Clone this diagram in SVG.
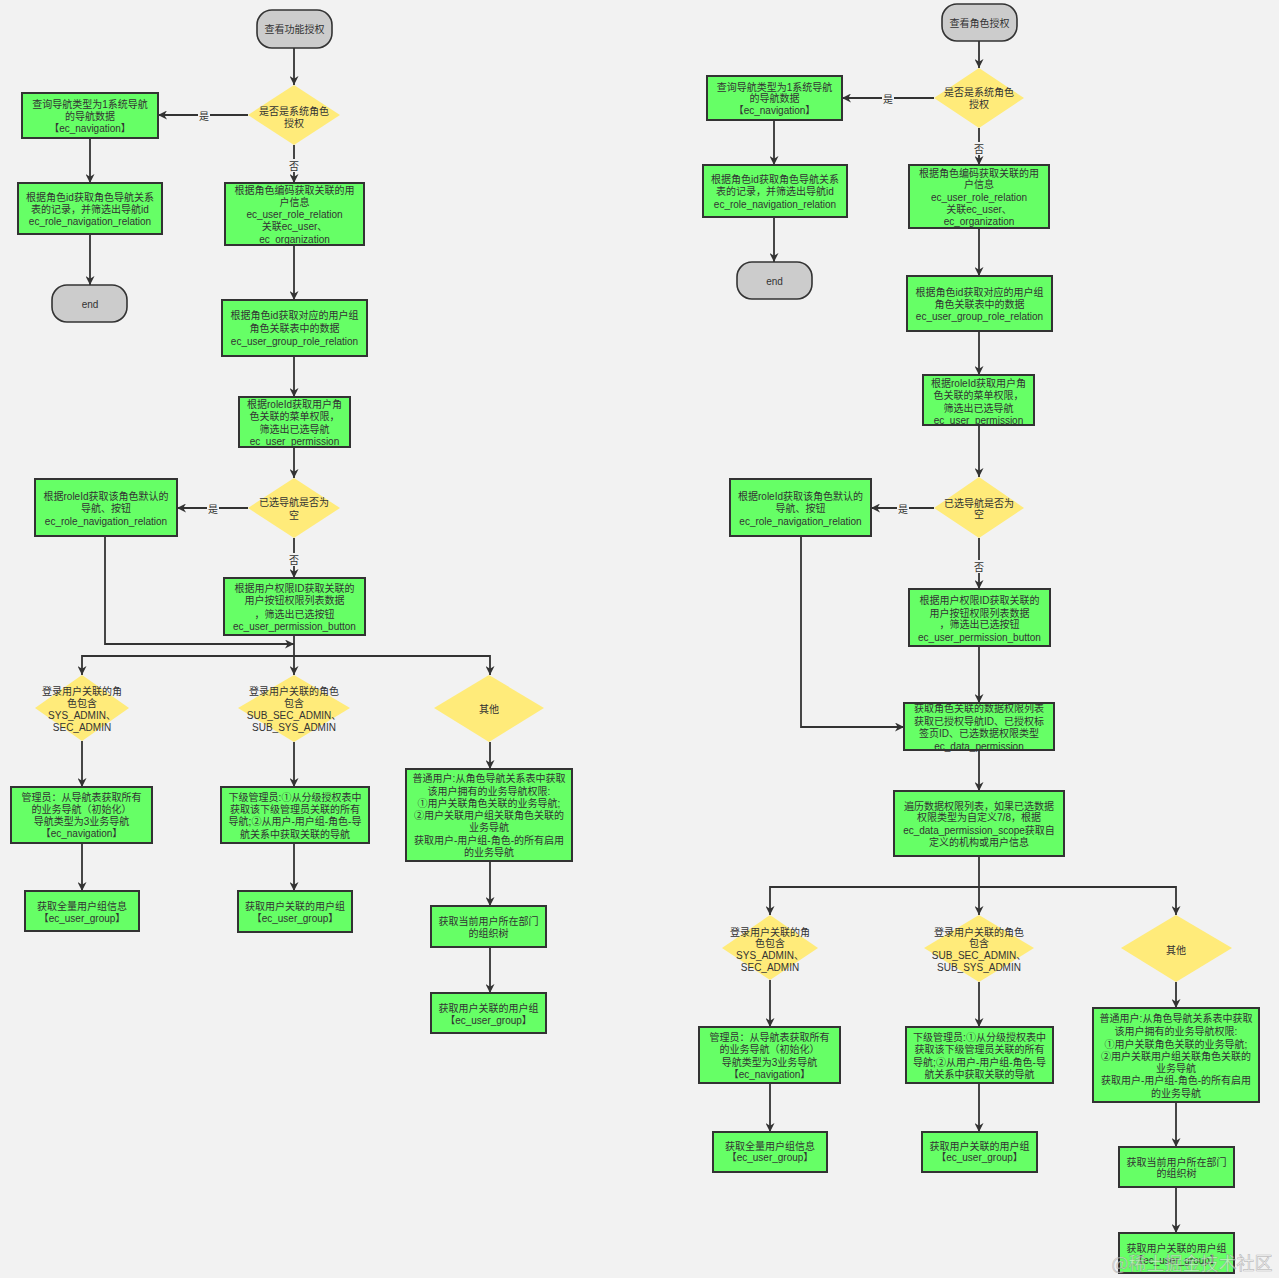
<svg xmlns="http://www.w3.org/2000/svg" width="1279" height="1278" viewBox="0 0 1279 1278">
<defs>
<marker id="arr" viewBox="0 0 10 10" refX="10" refY="5" markerWidth="9" markerHeight="9" markerUnits="userSpaceOnUse" orient="auto">
<path d="M0,0 L10,5 L0,10 L3,5 z" fill="#333"/>
</marker>
<style>
.bg{fill:#f2f2f2}
.box{fill:#66ff66;stroke:#333;stroke-width:2}
.dia{fill:#ffeb7a;stroke:none}
.term{fill:#cccccc;stroke:#333;stroke-width:1.6}
.t{font-family:"Liberation Sans","Noto Sans CJK SC",sans-serif;font-size:10px;fill:#333;text-anchor:middle;dominant-baseline:central}
.c{fill:none;stroke:#333;stroke-width:1.8}
.ca{fill:none;stroke:#333;stroke-width:1.8;marker-end:url(#arr)}
.lb{fill:#f2f2f2}
.wm{font-family:"Noto Sans CJK SC",sans-serif;font-size:18px;fill:#ffffff;fill-opacity:0.55;stroke:#777;stroke-opacity:0.45;stroke-width:0.7}
</style>
</defs>
<rect class="bg" x="0" y="0" width="1279" height="1278"/>

<g id="connectors">
<!-- left chart -->
<line class="ca" x1="294" y1="48" x2="294" y2="85"/>
<line class="ca" x1="248" y1="115" x2="158" y2="115"/>
<line class="ca" x1="90" y1="138" x2="90" y2="183"/>
<line class="ca" x1="90" y1="234" x2="90" y2="285"/>
<line class="ca" x1="294" y1="145" x2="294" y2="183"/>
<line class="ca" x1="294" y1="245" x2="294" y2="300"/>
<line class="ca" x1="294" y1="356" x2="294" y2="397"/>
<line class="ca" x1="294" y1="447" x2="294" y2="478"/>
<line class="ca" x1="248" y1="508" x2="177" y2="508"/>
<line class="ca" x1="294" y1="538" x2="294" y2="578"/>
<polyline class="ca" points="105,536 105,644 294,644"/>
<line class="ca" x1="294" y1="635" x2="294" y2="675"/>
<polyline class="ca" points="294,656 82,656 82,675"/>
<polyline class="ca" points="294,656 490,656 490,675"/>
<line class="ca" x1="82" y1="741" x2="82" y2="787"/>
<line class="ca" x1="82" y1="843" x2="82" y2="891"/>
<line class="ca" x1="294" y1="742" x2="294" y2="787"/>
<line class="ca" x1="294" y1="843" x2="294" y2="891"/>
<line class="ca" x1="490" y1="742" x2="490" y2="769"/>
<line class="ca" x1="490" y1="861" x2="490" y2="906"/>
<line class="ca" x1="490" y1="947" x2="490" y2="993"/>
<!-- right chart -->
<line class="ca" x1="979" y1="41" x2="979" y2="68"/>
<line class="ca" x1="934" y1="98" x2="842" y2="98"/>
<line class="ca" x1="774" y1="120" x2="774" y2="165"/>
<line class="ca" x1="774" y1="217" x2="774" y2="262"/>
<line class="ca" x1="979" y1="128" x2="979" y2="165"/>
<line class="ca" x1="979" y1="228" x2="979" y2="276"/>
<line class="ca" x1="979" y1="331" x2="979" y2="375"/>
<line class="ca" x1="979" y1="425" x2="979" y2="477"/>
<line class="ca" x1="934" y1="508" x2="871" y2="508"/>
<line class="ca" x1="979" y1="538" x2="979" y2="589"/>
<polyline class="ca" points="801,536 801,727 904,727"/>
<line class="ca" x1="979" y1="646" x2="979" y2="703"/>
<line class="ca" x1="979" y1="750" x2="979" y2="791"/>
<line class="ca" x1="979" y1="856" x2="979" y2="915"/>
<polyline class="ca" points="979,887 770,887 770,915"/>
<polyline class="ca" points="979,887 1176,887 1176,915"/>
<line class="ca" x1="770" y1="980" x2="770" y2="1027"/>
<line class="ca" x1="770" y1="1083" x2="770" y2="1132"/>
<line class="ca" x1="979" y1="982" x2="979" y2="1027"/>
<line class="ca" x1="979" y1="1083" x2="979" y2="1132"/>
<line class="ca" x1="1176" y1="982" x2="1176" y2="1008"/>
<line class="ca" x1="1176" y1="1102" x2="1176" y2="1147"/>
<line class="ca" x1="1176" y1="1187" x2="1176" y2="1233"/>
<!-- labels -->
<rect class="lb" x="198" y="109" width="12" height="13"/><text class="t" x="204" y="116">是</text>
<rect class="lb" x="288" y="159" width="12" height="13"/><text class="t" x="294" y="166">否</text>
<rect class="lb" x="207" y="502" width="12" height="13"/><text class="t" x="213" y="509">是</text>
<rect class="lb" x="288" y="553" width="12" height="13"/><text class="t" x="294" y="560">否</text>
<rect class="lb" x="882" y="92" width="12" height="13"/><text class="t" x="888" y="99">是</text>
<rect class="lb" x="973" y="142" width="12" height="13"/><text class="t" x="979" y="149">否</text>
<rect class="lb" x="897" y="502" width="12" height="13"/><text class="t" x="903" y="509">是</text>
<rect class="lb" x="973" y="560" width="12" height="13"/><text class="t" x="979" y="567">否</text>
</g>

<!-- ===== Left chart ===== -->
<g id="L_start"><rect class="term" x="257" y="10" width="75" height="38" rx="15"/><text class="t" x="294.5" y="29">查看功能授权</text></g>
<g id="L_dia1"><polygon class="dia" points="294,85 340,115 294,145 248,115"/><text class="t" x="294"><tspan x="294" y="111">是否是系统角色</tspan><tspan x="294" y="123">授权</tspan></text></g>
<g id="L_A1"><rect class="box" x="22" y="93" width="136" height="45"/><text class="t"><tspan x="90" y="104">查询导航类型为1系统导航</tspan><tspan x="90" y="116">的导航数据</tspan><tspan x="90" y="128">【ec_navigation】</tspan></text></g>
<g id="L_A2"><rect class="box" x="18" y="183" width="144" height="51"/><text class="t"><tspan x="90" y="197">根据角色id获取角色导航关系</tspan><tspan x="90" y="209">表的记录，并筛选出导航id</tspan><tspan x="90" y="221">ec_role_navigation_relation</tspan></text></g>
<g id="L_end"><rect class="term" x="52" y="285" width="75" height="37" rx="15"/><text class="t" x="90" y="304">end</text></g>
<g id="L_B1"><rect class="box" x="225" y="183" width="139" height="62"/><text class="t"><tspan x="294.5" y="190">根据角色编码获取关联的用</tspan><tspan x="294.5" y="202">户信息</tspan><tspan x="294.5" y="214">ec_user_role_relation</tspan><tspan x="294.5" y="226">关联ec_user、</tspan><tspan x="294.5" y="239">ec_organization</tspan></text></g>
<g id="L_B2"><rect class="box" x="222" y="300" width="145" height="56"/><text class="t"><tspan x="294.5" y="315">根据角色id获取对应的用户组</tspan><tspan x="294.5" y="328">角色关联表中的数据</tspan><tspan x="294.5" y="341">ec_user_group_role_relation</tspan></text></g>
<g id="L_B3"><rect class="box" x="239" y="397" width="111" height="50"/><text class="t"><tspan x="294.5" y="404">根据roleId获取用户角</tspan><tspan x="294.5" y="416">色关联的菜单权限，</tspan><tspan x="294.5" y="429">筛选出已选导航</tspan><tspan x="294.5" y="441">ec_user_permission</tspan></text></g>
<g id="L_dia2"><polygon class="dia" points="294,478 340,508 294,538 248,508"/><text class="t"><tspan x="294" y="502">已选导航是否为</tspan><tspan x="294" y="515">空</tspan></text></g>
<g id="L_C1"><rect class="box" x="35" y="479" width="142" height="57"/><text class="t"><tspan x="106" y="496">根据roleId获取该角色默认的</tspan><tspan x="106" y="508">导航、按钮</tspan><tspan x="106" y="521">ec_role_navigation_relation</tspan></text></g>
<g id="L_C2"><rect class="box" x="224" y="578" width="141" height="57"/><text class="t"><tspan x="294.5" y="588">根据用户权限ID获取关联的</tspan><tspan x="294.5" y="600">用户按钮权限列表数据</tspan><tspan x="294.5" y="614">，筛选出已选按钮</tspan><tspan x="294.5" y="626">ec_user_permission_button</tspan></text></g>
<g id="L_D1"><polygon class="dia" points="82,675 129,708 82,741 35,708"/><text class="t"><tspan x="82" y="691">登录用户关联的角</tspan><tspan x="82" y="703">色包含</tspan><tspan x="82" y="715">SYS_ADMIN、</tspan><tspan x="82" y="727">SEC_ADMIN</tspan></text></g>
<g id="L_D2"><polygon class="dia" points="294,675 350,708 294,742 238,708"/><text class="t"><tspan x="294" y="691">登录用户关联的角色</tspan><tspan x="294" y="703">包含</tspan><tspan x="294" y="715">SUB_SEC_ADMIN、</tspan><tspan x="294" y="727">SUB_SYS_ADMIN</tspan></text></g>
<g id="L_D3"><polygon class="dia" points="489,675 544,708 489,742 434,708"/><text class="t" x="489" y="709">其他</text></g>
<g id="L_E1"><rect class="box" x="11" y="787" width="141" height="56"/><text class="t"><tspan x="81.5" y="797">管理员：从导航表获取所有</tspan><tspan x="81.5" y="809">的业务导航（初始化）</tspan><tspan x="81.5" y="821">导航类型为3业务导航</tspan><tspan x="81.5" y="833">【ec_navigation】</tspan></text></g>
<g id="L_E2"><rect class="box" x="25" y="891" width="114" height="40"/><text class="t"><tspan x="82" y="906">获取全量用户组信息</tspan><tspan x="82" y="918">【ec_user_group】</tspan></text></g>
<g id="L_F1"><rect class="box" x="221" y="787" width="148" height="56"/><text class="t"><tspan x="295" y="797">下级管理员:①从分级授权表中</tspan><tspan x="295" y="809">获取该下级管理员关联的所有</tspan><tspan x="295" y="821">导航;②从用户-用户组-角色-导</tspan><tspan x="295" y="834">航关系中获取关联的导航</tspan></text></g>
<g id="L_F2"><rect class="box" x="238" y="891" width="114" height="41"/><text class="t"><tspan x="295" y="906">获取用户关联的用户组</tspan><tspan x="295" y="918">【ec_user_group】</tspan></text></g>
<g id="L_G1"><rect class="box" x="406" y="769" width="166" height="92"/><text class="t"><tspan x="489" y="778">普通用户:从角色导航关系表中获取</tspan><tspan x="489" y="791">该用户拥有的业务导航权限:</tspan><tspan x="489" y="803">①用户关联角色关联的业务导航;</tspan><tspan x="489" y="815">②用户关联用户组关联角色关联的</tspan><tspan x="489" y="827">业务导航</tspan><tspan x="489" y="840">获取用户-用户组-角色-的所有启用</tspan><tspan x="489" y="852">的业务导航</tspan></text></g>
<g id="L_G2"><rect class="box" x="431" y="906" width="115" height="41"/><text class="t"><tspan x="488.5" y="921">获取当前用户所在部门</tspan><tspan x="488.5" y="933">的组织树</tspan></text></g>
<g id="L_G3"><rect class="box" x="431" y="993" width="115" height="40"/><text class="t"><tspan x="488.5" y="1008">获取用户关联的用户组</tspan><tspan x="488.5" y="1020">【ec_user_group】</tspan></text></g>

<!-- ===== Right chart ===== -->
<g id="R_start"><rect class="term" x="942" y="4" width="75" height="37" rx="15"/><text class="t" x="979.5" y="23">查看角色授权</text></g>
<g id="R_dia1"><polygon class="dia" points="979,68 1024,98 979,128 934,98"/><text class="t"><tspan x="979" y="92">是否是系统角色</tspan><tspan x="979" y="104">授权</tspan></text></g>
<g id="R_A1"><rect class="box" x="707" y="76" width="135" height="44"/><text class="t"><tspan x="774.5" y="87">查询导航类型为1系统导航</tspan><tspan x="774.5" y="98">的导航数据</tspan><tspan x="774.5" y="110">【ec_navigation】</tspan></text></g>
<g id="R_A2"><rect class="box" x="703" y="165" width="144" height="52"/><text class="t"><tspan x="775" y="179">根据角色id获取角色导航关系</tspan><tspan x="775" y="191">表的记录，并筛选出导航id</tspan><tspan x="775" y="204">ec_role_navigation_relation</tspan></text></g>
<g id="R_end"><rect class="term" x="737" y="262" width="75" height="37" rx="15"/><text class="t" x="774.5" y="281">end</text></g>
<g id="R_B1"><rect class="box" x="909" y="165" width="140" height="63"/><text class="t"><tspan x="979" y="173">根据角色编码获取关联的用</tspan><tspan x="979" y="184">户信息</tspan><tspan x="979" y="197">ec_user_role_relation</tspan><tspan x="979" y="209">关联ec_user、</tspan><tspan x="979" y="221">ec_organization</tspan></text></g>
<g id="R_B2"><rect class="box" x="907" y="276" width="145" height="55"/><text class="t"><tspan x="979.5" y="292">根据角色id获取对应的用户组</tspan><tspan x="979.5" y="304">角色关联表中的数据</tspan><tspan x="979.5" y="316">ec_user_group_role_relation</tspan></text></g>
<g id="R_B3"><rect class="box" x="923" y="375" width="111" height="50"/><text class="t"><tspan x="978.5" y="383">根据roleId获取用户角</tspan><tspan x="978.5" y="395">色关联的菜单权限，</tspan><tspan x="978.5" y="408">筛选出已选导航</tspan><tspan x="978.5" y="420">ec_user_permission</tspan></text></g>
<g id="R_dia2"><polygon class="dia" points="979,477 1024,508 979,538 934,508"/><text class="t"><tspan x="979" y="503">已选导航是否为</tspan><tspan x="979" y="514">空</tspan></text></g>
<g id="R_C1"><rect class="box" x="730" y="479" width="141" height="57"/><text class="t"><tspan x="800.5" y="496">根据roleId获取该角色默认的</tspan><tspan x="800.5" y="508">导航、按钮</tspan><tspan x="800.5" y="521">ec_role_navigation_relation</tspan></text></g>
<g id="R_C2"><rect class="box" x="909" y="589" width="141" height="57"/><text class="t"><tspan x="979.5" y="600">根据用户权限ID获取关联的</tspan><tspan x="979.5" y="613">用户按钮权限列表数据</tspan><tspan x="979.5" y="624">，筛选出已选按钮</tspan><tspan x="979.5" y="637">ec_user_permission_button</tspan></text></g>
<g id="R_D"><rect class="box" x="904" y="703" width="150" height="47"/><text class="t"><tspan x="979" y="708">获取角色关联的数据权限列表</tspan><tspan x="979" y="721">获取已授权导航ID、已授权标</tspan><tspan x="979" y="733">签页ID、已选数据权限类型</tspan><tspan x="979" y="746">ec_data_permission</tspan></text></g>
<g id="R_E"><rect class="box" x="894" y="791" width="170" height="65"/><text class="t"><tspan x="979" y="806">遍历数据权限列表，如果已选数据</tspan><tspan x="979" y="817">权限类型为自定义7/8，根据</tspan><tspan x="979" y="830">ec_data_permission_scope获取自</tspan><tspan x="979" y="842">定义的机构或用户信息</tspan></text></g>
<g id="R_D1"><polygon class="dia" points="770,915 818,948 770,980 722,948"/><text class="t"><tspan x="770" y="932">登录用户关联的角</tspan><tspan x="770" y="943">色包含</tspan><tspan x="770" y="955">SYS_ADMIN、</tspan><tspan x="770" y="967">SEC_ADMIN</tspan></text></g>
<g id="R_D2"><polygon class="dia" points="979,915 1034,948 979,982 924,948"/><text class="t"><tspan x="979" y="932">登录用户关联的角色</tspan><tspan x="979" y="943">包含</tspan><tspan x="979" y="955">SUB_SEC_ADMIN、</tspan><tspan x="979" y="967">SUB_SYS_ADMIN</tspan></text></g>
<g id="R_D3"><polygon class="dia" points="1176,915 1232,948 1176,982 1121,948"/><text class="t" x="1176" y="950">其他</text></g>
<g id="R_E1"><rect class="box" x="699" y="1027" width="141" height="56"/><text class="t"><tspan x="769.5" y="1037">管理员：从导航表获取所有</tspan><tspan x="769.5" y="1049">的业务导航（初始化）</tspan><tspan x="769.5" y="1062">导航类型为3业务导航</tspan><tspan x="769.5" y="1074">【ec_navigation】</tspan></text></g>
<g id="R_E2"><rect class="box" x="713" y="1132" width="114" height="40"/><text class="t"><tspan x="770" y="1146">获取全量用户组信息</tspan><tspan x="770" y="1157">【ec_user_group】</tspan></text></g>
<g id="R_F1"><rect class="box" x="906" y="1027" width="147" height="56"/><text class="t"><tspan x="979.5" y="1037">下级管理员:①从分级授权表中</tspan><tspan x="979.5" y="1049">获取该下级管理员关联的所有</tspan><tspan x="979.5" y="1062">导航;②从用户-用户组-角色-导</tspan><tspan x="979.5" y="1074">航关系中获取关联的导航</tspan></text></g>
<g id="R_F2"><rect class="box" x="922" y="1132" width="115" height="40"/><text class="t"><tspan x="979.5" y="1146">获取用户关联的用户组</tspan><tspan x="979.5" y="1157">【ec_user_group】</tspan></text></g>
<g id="R_G1"><rect class="box" x="1093" y="1008" width="166" height="94"/><text class="t"><tspan x="1176" y="1018">普通用户:从角色导航关系表中获取</tspan><tspan x="1176" y="1031">该用户拥有的业务导航权限:</tspan><tspan x="1176" y="1044">①用户关联角色关联的业务导航;</tspan><tspan x="1176" y="1056">②用户关联用户组关联角色关联的</tspan><tspan x="1176" y="1068">业务导航</tspan><tspan x="1176" y="1080">获取用户-用户组-角色-的所有启用</tspan><tspan x="1176" y="1093">的业务导航</tspan></text></g>
<g id="R_G2"><rect class="box" x="1119" y="1147" width="115" height="40"/><text class="t"><tspan x="1176.5" y="1162">获取当前用户所在部门</tspan><tspan x="1176.5" y="1173">的组织树</tspan></text></g>
<g id="R_G3"><rect class="box" x="1119" y="1233" width="115" height="40"/><text class="t"><tspan x="1176.5" y="1248">获取用户关联的用户组</tspan><tspan x="1176.5" y="1260">【ec_user_group】</tspan></text></g>

<text class="wm" x="1192" y="1262" text-anchor="middle" dominant-baseline="central">@稀土掘金技术社区</text>
</svg>
